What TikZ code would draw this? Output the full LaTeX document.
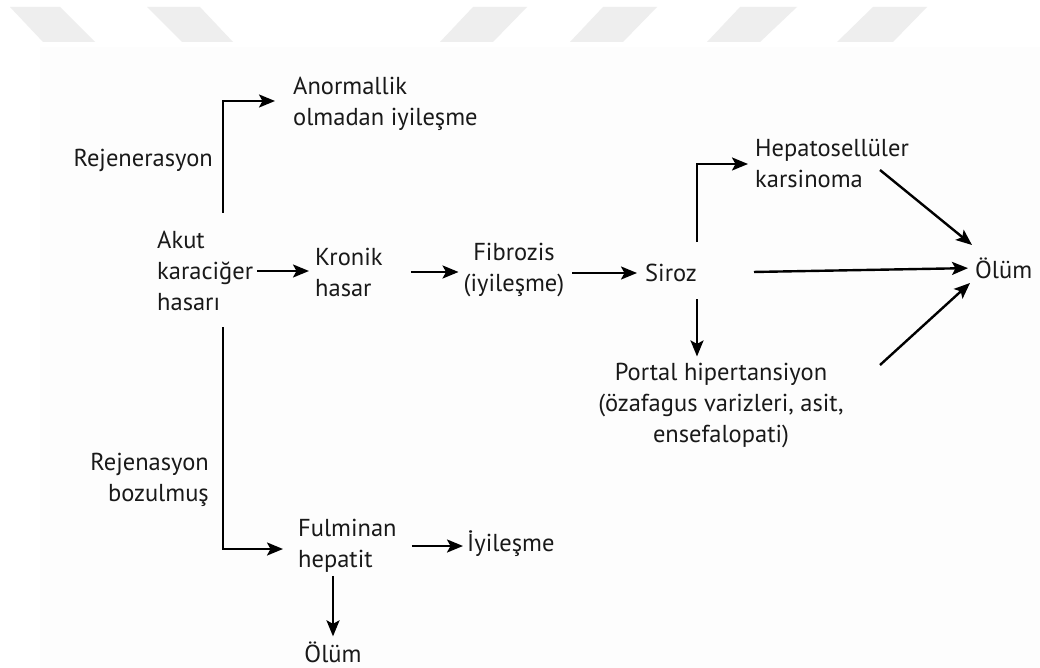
\documentclass[tikz,border=0pt]{standalone}
\usepackage{fontspec}
\setmainfont{PT Sans}
\usetikzlibrary{arrows.meta,calc}
\tikzset{
  lbl/.style={inner sep=0pt, font=\fontsize{24.5}{31}\selectfont, text=black!90},
  arr/.style={line width=2.4pt, -{Stealth[length=16pt,width=13pt,inset=3.5pt]}},
  wm/.style={fill=black!6.5, draw=none}
}
\begin{document}
\begin{tikzpicture}[x=1pt,y=-1pt]
\useasboundingbox (0,0) rectangle (1040,668);
\fill[white] (0,0) rectangle (1040,668);
\fill[black!0.8] (40,47) rectangle (1040,668);
% watermark shapes
\fill[wm] (10,7) -- (60,7) -- (95,42) -- (43,42) -- cycle;
\fill[wm] (147,7) -- (200,7) -- (233,42) -- (182,42) -- cycle;
\fill[wm] (473,7) -- (527,7) -- (493,42) -- (440,42) -- cycle;
\fill[wm] (603,7) -- (657,7) -- (623,42) -- (570,42) -- cycle;
\fill[wm] (740,7) -- (797,7) -- (760,42) -- (707,42) -- cycle;
\fill[wm] (873,7) -- (927,7) -- (893,42) -- (837,42) -- cycle;

% nodes
\node[lbl, anchor=west, align=left] (anorm) at (293,104) {Anormallik\\olmadan iyileşme};
\node[lbl, anchor=east, align=right] (rejen) at (213,160) {Rejenerasyon};
\node[lbl, anchor=west, align=left] (akut) at (157,271) {Akut\\karaciğer\\hasarı};
\node[lbl, anchor=west, align=left] (kronik) at (315,272) {Kronik\\hasar};
\node[lbl, align=center] (fibro) at (514,270) {Fibrozis\\(iyileşme)};
\node[lbl, anchor=west] (siroz) at (645,273) {Siroz};
\node[lbl, anchor=west, align=left] (hepato) at (755,164) {Hepatosellüler\\karsinoma};
\node[lbl, anchor=west] (olum1) at (975,268) {Ölüm};
\node[lbl, align=center] (portal) at (721,406) {Portal hipertansiyon\\(özafagus varizleri, asit,\\ensefalopati)};
\node[lbl, anchor=east, align=right] (rejenb) at (209,480) {Rejenasyon\\bozulmuş};
\node[lbl, anchor=west, align=left] (fulm) at (298,546) {Fulminan\\hepatit};
\node[lbl, anchor=west] (iyi) at (467,544) {İyileşme};
\node[lbl] (olum2) at (333,652) {Ölüm};

% free ends
\coordinate (a1) at (223,213);
\coordinate (a2) at (223,327);
\coordinate (s1) at (697,242);
\coordinate (h1) at (880,170);
\coordinate (p1) at (880,365);

% connectors
\draw[arr] (a1) |- ([xshift=-18pt,yshift=3pt]anorm.west);
\draw[arr, shorten <=4pt, shorten >=6pt] (akut.east) -- (akut.east -| kronik.west);
\draw[arr, shorten <=28pt, shorten >=5pt] (kronik.east) -- (kronik.east -| fibro.west);
\draw[arr, shorten <=8pt, shorten >=8pt] (fibro.east |- siroz.west) -- (siroz.west);
\draw[arr, shorten >=7pt] (s1) |- (hepato.west);
\draw[arr, shorten <=57pt, shorten >=7pt] (siroz.east) -- (olum1.west);
\draw[arr] (h1) -- ($(olum1.west)+(-3,-23)$);
\draw[arr] (p1) -- ($(olum1.west)+(-5,15)$);
\draw[arr, shorten <=17pt, shorten >=7pt] (siroz.south east) -- (siroz.south east |- portal.north);
\draw[arr] (a2) |- ([xshift=-15pt,yshift=-3pt]fulm.west);
\draw[arr, shorten <=15pt, shorten >=4pt] (fulm.east) -- (fulm.east -| iyi.west);
\draw[arr, shorten <=3pt, shorten >=5pt] (olum2.north |- fulm.south) -- (olum2.north);
\end{tikzpicture}
\end{document}
